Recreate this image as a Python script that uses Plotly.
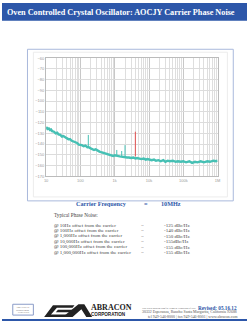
import plotly.graph_objects as go

W, H = 250, 323

# ---- data ----
freq_hz = [10, 11, 12, 13, 14, 15, 17, 19, 21, 23, 26, 29, 32, 36, 40, 45, 50, 56, 63, 70, 80, 90, 100,
           110, 125, 140, 160, 175, 200, 225, 250, 280, 320, 360, 400, 450, 500, 560, 630, 700, 800, 900, 1000,
           1100, 1200, 1400, 1650, 1800, 2050, 2300, 2600, 3000, 3500, 4000, 4500, 5000, 6000,
           7000, 8000, 9000, 10000,
           12000, 14000, 16000, 19000, 22000, 26000, 30000, 35000, 40000, 50000, 60000, 70000, 85000, 100000,
           120000, 150000, 180000, 220000, 260000, 320000, 400000, 500000, 600000, 750000, 900000, 1000000]
phase_noise_dbc = [-124, -126, -125.5, -127, -126.5, -128, -128.5, -130, -129.5, -131, -131.5, -133, -132.5,
                   -134, -134.5, -135.5, -135.5, -137, -137.5, -138.5, -139, -140.5, -140.5,
                   -141, -142, -141.5, -143, -143, -144, -144.5, -145.5, -145, -146.5, -147, -147.5,
                   -148, -148.5, -149, -149.5, -150, -150.5, -151, -150.5,
                   -151, -151, -151.5, -152, -152, -152, -152.5, -152.5, -153, -152.5,
                   -153.5, -153, -153.5, -154, -153.5, -154.5, -154, -154.5,
                   -155, -154.5, -155.5, -155, -156, -155, -156.5, -155.5, -156, -155.5, -156.5, -156, -156.5, -156,
                   -157, -156, -157.5, -156.5, -157, -156, -157, -156, -156.5, -155.5, -156, -155.5]
spike_freq = [170, 1150, 1600, 2000]
spike_top = [-131.5, -145.5, -146.5, -141]
spike_base = [-143, -151, -151.5, -152]
spur_freq = [4000, 4000]
spur_level = [-128.5, -151.5]

x_tickvals = [10, 100, 1000, 10000, 100000, 1000000]
x_ticktext = ["10", "100", "1k", "10k", "100k", "1M"]
y_tickvals = [-60, -70, -80, -90, -100, -110, -120, -130, -140, -150, -160, -170]

offsets = ["@ 10Hz offset from the carrier", "@ 100Hz offset from the carrier", "@ 1,000Hz offset from the carrier",
           "@ 10,000Hz offset from the carrier", "@ 100,000Hz offset from the carrier",
           "@ 1,000,000Hz offset from the carrier"]
offset_values = ["-125 dBc/Hz", "-140 dBc/Hz", "-150 dBc/Hz", "-155dBc/Hz", "-155 dBc/Hz", "-155 dBc/Hz"]


def px(x):
    return x / W


def py(y):
    return 1 - y / H


SERIF = "Liberation Serif"
BLUE = "#2d57a9"
TEAL = "rgb(70,192,180)"

fig = go.Figure()
fig.add_trace(go.Scatter(x=freq_hz, y=phase_noise_dbc, mode="lines",
                         line=dict(color=TEAL, width=2.4), hoverinfo="skip"))
sx, sy = [], []
for f, t, b in zip(spike_freq, spike_top, spike_base):
    sx += [f, f, None]
    sy += [b, t, None]
fig.add_trace(go.Scatter(x=sx, y=sy, mode="lines", line=dict(color=TEAL, width=1), hoverinfo="skip"))
fig.add_trace(go.Scatter(x=spur_freq, y=spur_level, mode="lines",
                         line=dict(color="rgb(225,80,80)", width=1), hoverinfo="skip"))

fig.update_layout(
    width=W, height=H, margin=dict(l=0, r=0, t=0, b=0),
    paper_bgcolor="white", plot_bgcolor="white", showlegend=False,
    xaxis=dict(type="log", domain=[px(45), px(220)], range=[1, 6],
               tickvals=x_tickvals, ticktext=x_ticktext,
               tickfont=dict(size=4, color="#999", family="Arial"),
               showgrid=True, gridcolor="#c8c8c8", gridwidth=1.3,
               minor=dict(dtick="D1", showgrid=True, gridcolor="#dedede", gridwidth=0.8),
               showline=True, linecolor="#bbb", linewidth=1, mirror=True, zeroline=False, ticks=""),
    yaxis=dict(domain=[py(176), py(56)], range=[-170, -60],
               tickvals=y_tickvals,
               tickfont=dict(size=4, color="#999", family="Arial"),
               showgrid=True, gridcolor="#dcdcdc", gridwidth=0.7,
               showline=True, linecolor="#bbb", linewidth=1, mirror=True, zeroline=False, ticks=""),
)

shapes = []
# title bar
shapes.append(dict(type="rect", xref="paper", yref="paper", x0=0, x1=1, y0=py(18), y1=1,
                   fillcolor=BLUE, line=dict(width=0), layer="below"))
# chart frames
shapes.append(dict(type="rect", xref="paper", yref="paper", x0=px(26), x1=px(236), y0=py(201), y1=py(47),
                   line=dict(color="#a9b9dc", width=1), layer="below"))
shapes.append(dict(type="rect", xref="paper", yref="paper", x0=px(32), x1=px(230), y0=py(197), y1=py(50),
                   line=dict(color="#ececec", width=1), layer="below"))
# footer line
shapes.append(dict(type="rect", xref="paper", yref="paper", x0=0, x1=1, y0=0, y1=py(321),
                   fillcolor=BLUE, line=dict(width=0)))
# cert box
shapes.append(dict(type="rect", xref="paper", yref="paper", x0=px(11), x1=px(32), y0=py(317), y1=py(306),
                   line=dict(color="#8a9cc8", width=1)))
# logo shapes
def path(points):
    s = "M " + " L ".join(f"{px(a):.4f},{py(b):.4f}" for a, b in points) + " Z"
    return s

shapes.append(dict(type="path", xref="paper", yref="paper",
                   path=path([(43, 319), (52, 307), (74, 307), (72, 309.5), (56, 309.5), (50, 316.5), (66, 316.5), (64, 319)]),
                   fillcolor="#222", line=dict(width=0)))
shapes.append(dict(type="path", xref="paper", yref="paper",
                   path=path([(62, 319), (78, 306), (84, 306), (92, 319), (86, 319), (81, 311), (72, 319)]),
                   fillcolor="#222", line=dict(width=0)))
shapes.append(dict(type="path", xref="paper", yref="paper",
                   path=path([(55, 314), (57, 311.5), (76, 311.5), (74, 314)]),
                   fillcolor="#222", line=dict(width=0)))
fig.update_layout(shapes=shapes)

ann = []
def text(x, y, t, size, color="#333", bold=False, anchor="left", family=SERIF):
    if bold:
        t = "<b>" + t + "</b>"
    ann.append(dict(xref="paper", yref="paper", x=px(x), y=py(y), text=t, showarrow=False,
                    xanchor=anchor, yanchor="middle", font=dict(size=size, color=color, family=family)))

text(121, 9.5, "Oven Controlled Crystal Oscillator: AOCJY Carrier Phase Noise", 8.2, "white", True, "center")
text(73, 203.5, "Carrier Frequency", 6.2, BLUE, True)
text(143, 203.5, "=", 6.2, BLUE, True)
text(160, 203.5, "10MHz", 6.2, BLUE, True)
text(51, 215, "Typical Phase Noise:", 5.2, "#444")
for i, (o, v) in enumerate(zip(offsets, offset_values)):
    yy = 226 + i * 5.5
    text(51, yy, o, 5.0, "#444")
    text(140, yy, "=", 5.0, "#444")
    text(163, yy, v, 5.0, "#444")
# footer
text(21.5, 309, "ABRACON IS", 2.2, "#555", anchor="center")
text(21.5, 311.5, "ISO9001:2008", 2.2, "#555", anchor="center")
text(21.5, 314, "CERTIFIED", 2.2, "#555", anchor="center")
text(89, 309.5, "ABRACON", 8, "#222", True)
text(89, 316, "CORPORATION", 4.6, "#222", True, family="Liberation Sans")
text(141, 310, "Visit www.abracon.com for Terms &amp; Conditions of Sale", 2.4, "#555")
text(242, 309.5, "Revised: 05.16.12", 5.2, BLUE, True, "right")
text(242, 314.5, "30332 Esperanza, Rancho Santa Margarita, California 92688", 3.9, "#555", anchor="right")
text(242, 318.5, "tel 949-546-8000 | fax 949-546-8001 | www.abracon.com", 3.9, "#555", anchor="right")
fig.update_layout(annotations=ann)

fig.write_html("out.html")
